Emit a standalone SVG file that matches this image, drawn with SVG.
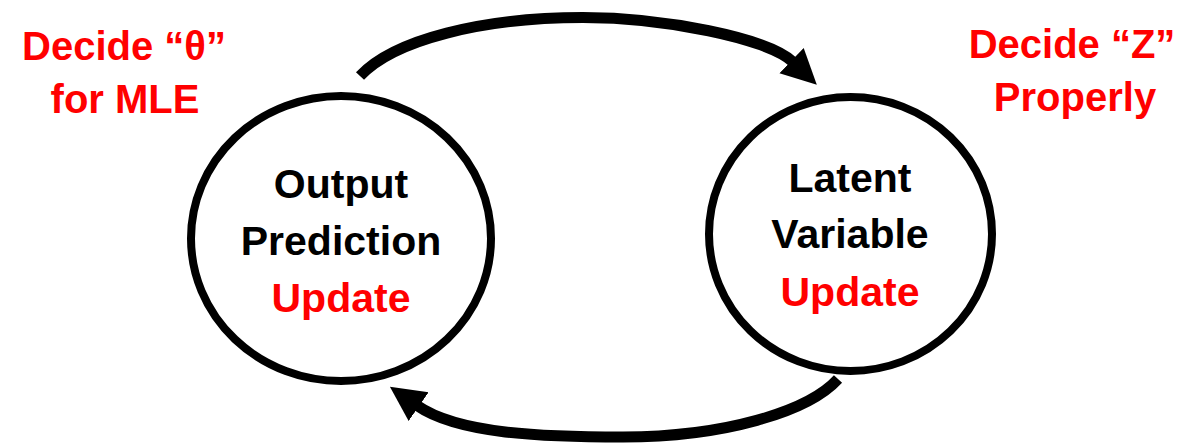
<svg xmlns="http://www.w3.org/2000/svg" width="1182" height="443" viewBox="0 0 1182 443">
<style>
.node{fill:#FFFFFF;stroke:#000000;stroke-width:8}
.t{font-family:"Liberation Sans",Arial,sans-serif;font-weight:bold;font-size:41px;text-anchor:middle}
.blk{fill:#000000}
.red{fill:#FF0000}
.lbl{font-family:"Liberation Sans",Arial,sans-serif;font-weight:bold;font-size:40px;text-anchor:middle;fill:#FF0000}
.conn{fill:none;stroke:#000000;stroke-width:11;stroke-linecap:butt}
</style>
<defs>
<marker id="head" markerUnits="userSpaceOnUse" markerWidth="36" markerHeight="36" viewBox="0 0 36 36" refX="2" refY="17.5" orient="auto">
<path d="M0,0 L35,17.5 L0,35 Z" fill="#000000"/>
</marker>
</defs>
<g id="connectors">
<path class="conn" d="M360,76 C394,39.5 483,17.5 583,17.5 C663,17.5 768,38 793,62" marker-end="url(#head)"/>
<path class="conn" d="M838,379 C808,412 723,437 623,437 C543,437 458,434 417,405.5" marker-end="url(#head)"/>
</g>
<g id="node-output">
<ellipse class="node" cx="341" cy="238.5" rx="150" ry="142.5"/>
<text class="t blk" x="341" y="198">Output</text>
<text class="t blk" x="341" y="255">Prediction</text>
<text class="t red" x="341" y="312">Update</text>
</g>
<g id="node-latent">
<ellipse class="node" cx="850.5" cy="234" rx="141.5" ry="137"/>
<text class="t blk" x="850" y="192">Latent</text>
<text class="t blk" x="850" y="248">Variable</text>
<text class="t red" x="850" y="306">Update</text>
</g>
<g id="label-theta">
<text class="lbl" x="124" y="60">Decide “θ”</text>
<text class="lbl" x="125" y="113">for MLE</text>
</g>
<g id="label-z">
<text class="lbl" x="1072" y="58">Decide “Z”</text>
<text class="lbl" x="1075" y="111">Properly</text>
</g>
</svg>
